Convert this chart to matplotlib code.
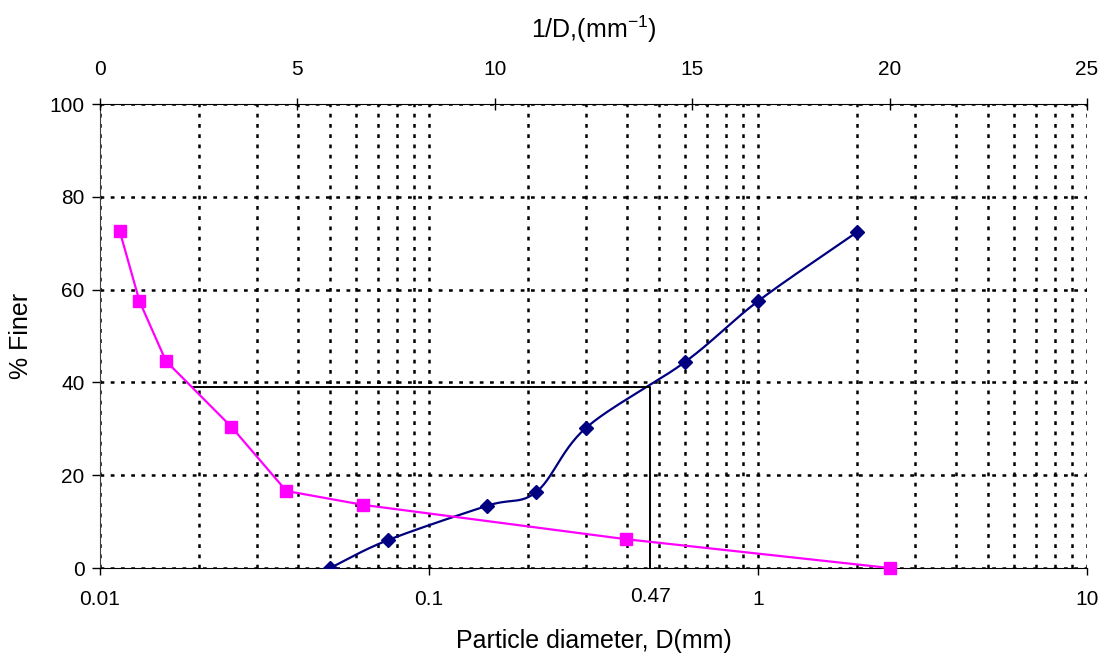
import numpy as np
import matplotlib
matplotlib.use('Agg')
import matplotlib.pyplot as plt
from matplotlib.ticker import FixedLocator, NullFormatter, LogLocator

plt.rcParams['font.family'] = ['Liberation Sans', 'DejaVu Sans']

# Particle diameter (mm) and % finer
diameter = [0.05, 0.075, 0.15, 0.212, 0.3, 0.6, 1.0, 2.0]
finer = [0, 6.0, 13.4, 16.4, 30.2, 44.4, 57.5, 72.4]
# same sieve data against 1/D on top axis
inv_d = [0.5, 1.0, 1.67, 3.33, 4.72, 6.67, 13.33, 20.0]
finer_inv = [72.6, 57.5, 44.6, 30.4, 16.6, 13.6, 6.2, 0]

# reading at 40 % finer
d_mark = 0.47
y_mark = 39
x_start = 0.0192

bottom_ticks = [0.01, 0.1, 1, 10]
bottom_labels = ['0.01', '0.1', '1', '10']
top_ticks = [0, 5, 10, 15, 20, 25]
y_ticks = [0, 20, 40, 60, 80, 100]


def smooth_curve(xs, ys, n=30):
    # Catmull-Rom through the points in (log x, y), like Excel's smoothed line
    lx = np.log10(xs)
    y = np.asarray(ys, dtype=float)
    px = np.concatenate([[2 * lx[0] - lx[1]], lx, [2 * lx[-1] - lx[-2]]])
    py = np.concatenate([[2 * y[0] - y[1]], y, [2 * y[-1] - y[-2]]])
    out_x, out_y = [], []
    t = np.linspace(0, 1, n)
    for i in range(1, len(px) - 2):
        for p, out in ((px, out_x), (py, out_y)):
            p0, p1, p2, p3 = p[i - 1], p[i], p[i + 1], p[i + 2]
            seg = 0.5 * ((2 * p1) + (-p0 + p2) * t + (2 * p0 - 5 * p1 + 4 * p2 - p3) * t ** 2
                         + (-p0 + 3 * p1 - 3 * p2 + p3) * t ** 3)
            out.extend(seg)
    return 10 ** np.array(out_x), np.array(out_y)


fig = plt.figure(figsize=(11.13, 6.59), dpi=100)
ax = fig.add_axes([100 / 1113, 1 - 568 / 659, 987 / 1113, 464 / 659])

ax.set_xscale('log')
ax.set_xlim(0.01, 10)
ax.set_ylim(0, 100)

grid_kw = dict(color='black', linewidth=1.8, linestyle=(0, (1.5, 2.6)))
ax.xaxis.set_major_locator(FixedLocator(bottom_ticks))
ax.xaxis.set_minor_locator(LogLocator(base=10, subs=np.arange(2, 10)))
ax.xaxis.set_minor_formatter(NullFormatter())
ax.set_xticklabels(bottom_labels)
ax.set_yticks(y_ticks)
ax.grid(True, which='both', axis='x', **grid_kw)
ax.grid(True, which='major', axis='y', **grid_kw)
ax.set_axisbelow(True)

ax.tick_params(axis='x', which='major', direction='out', length=5, width=1, pad=11, labelsize=15)
ax.tick_params(axis='x', which='minor', length=0)
ax.tick_params(axis='y', direction='out', length=6, width=1, pad=5, labelsize=15)

for side in ['right', 'top']:
    ax.spines[side].set_visible(False)
ax.spines['left'].set_color('#404040')
ax.spines['bottom'].set_color('black')

sx, sy = smooth_curve(diameter, finer)
ax.plot(sx, sy, color='#000080', linewidth=1.6, zorder=3)
ax.plot(diameter, finer, linestyle='none', marker='D', markersize=7.5,
        color='#000080', zorder=4)

ax.plot([x_start, d_mark, d_mark], [y_mark, y_mark, 0], color='black', linewidth=1.4, zorder=3)
ax.text(d_mark, -4.0, '0.47', ha='center', va='top', fontsize=15)

ax.set_xlabel('Particle diameter, D(mm)', fontsize=18, labelpad=14)
ax.set_ylabel('% Finer', fontsize=18, labelpad=12)

ax2 = ax.twiny()
ax2.set_xlim(0, 25)
ax2.set_xticks(top_ticks)
ax2.tick_params(axis='x', direction='inout', length=8, width=1, pad=14, labelsize=15)
for side in ['right', 'left', 'bottom']:
    ax2.spines[side].set_visible(False)
ax2.spines['top'].set_color('black')
ax2.plot(inv_d, finer_inv, color='#FF00FF', linewidth=1.6, marker='s', markersize=9,
         zorder=3, clip_on=False)
ax2.set_xlabel('1/D,(mm$^{\\mathregular{-1}}$)', fontsize=18, labelpad=16)

fig.savefig('out.png', dpi=100)
